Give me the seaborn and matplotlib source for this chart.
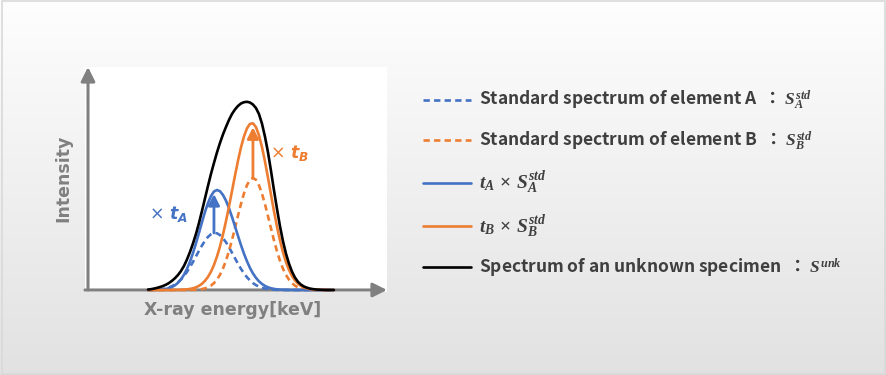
import numpy as np
import pandas as pd
import matplotlib
matplotlib.use("Agg")
import matplotlib.pyplot as plt
import seaborn as sns
from matplotlib.font_manager import FontProperties
from matplotlib.patches import Rectangle

# ---------------- data (arbitrary units) ----------------
energy = [20, 21, 22, 23, 24, 25, 26, 27, 28, 29, 30, 31, 32, 33, 34, 35,
          36, 37, 38, 39, 40, 41, 42, 43, 44, 45, 46, 47, 48, 49, 50, 51,
          52, 53, 54, 55, 56, 57, 58, 59, 60, 61, 62, 63, 64, 65, 66, 67,
          68, 69, 70, 71, 72, 73, 74, 75, 76, 77, 78, 79, 80, 81, 82]

std_a = [0.08, 0.14, 0.25, 0.42, 0.69, 1.1, 1.71, 2.59, 3.83, 5.51, 7.71, 10.5,
         14.0, 18.1, 22.9, 28.1, 33.6, 39.2, 44.5, 49.2, 53.1, 55.7, 57.0, 56.7,
         55.0, 51.9, 47.8, 42.8, 37.4, 31.8, 26.3, 21.2, 16.7, 12.8, 9.5, 6.9,
         4.9, 3.4, 2.3, 1.47, 0.94, 0.58, 0.35, 0.21, 0.12, 0.07, 0.04, 0,
         0, 0, 0, 0, 0, 0, 0, 0, 0, 0, 0, 0, 0, 0, 0]
std_b = [0, 0, 0, 0, 0, 0, 0, 0, 0, 0, 0, 0.01,
         0.02, 0.04, 0.08, 0.15, 0.29, 0.53, 0.94, 1.63, 2.7, 4.39, 6.9, 10.4,
         15.2, 21.4, 29.3, 38.9, 49.8, 61.8, 74.1, 86.0, 96.5, 104.8, 110.2, 112.0,
         110.2, 104.8, 96.5, 86.0, 74.1, 61.8, 49.8, 38.9, 29.3, 21.4, 15.2, 10.4,
         6.9, 4.39, 2.7, 1.63, 0.94, 0.53, 0.29, 0.15, 0.08, 0.04, 0.02, 0.01, 0, 0, 0]
scaled_a = [0.03, 0.05, 0.1, 0.2, 0.36, 0.64, 1.1, 1.86, 3.0, 4.7, 7.2, 10.6,
            15.2, 21.1, 28.3, 36.9, 46.6, 57.1, 67.8, 78.0, 86.9, 94.0, 98.5, 100.0,
            98.8, 95.1, 89.4, 81.9, 73.2, 63.8, 54.3, 45.0, 36.4, 28.8, 22.1, 16.6,
            12.2, 8.7, 6.1, 4.1, 2.7, 1.76, 1.1, 0.68, 0.4, 0.24, 0.14, 0.08,
            0.04, 0.02, 0, 0, 0, 0, 0, 0, 0, 0, 0, 0, 0, 0, 0]
scaled_b = [0, 0, 0, 0, 0, 0, 0.01, 0.02, 0.04, 0.07, 0.12, 0.22,
            0.38, 0.65, 1.07, 1.72, 2.7, 4.15, 6.2, 9.15, 13.1, 18.3, 25.0, 33.4,
            43.4, 55.3, 68.7, 83.3, 98.7, 114.2, 129.1, 142.5, 153.5, 161.6, 166.1, 166.7,
            162.9, 154.8, 143.1, 128.7, 112.5, 95.7, 79.0, 63.7, 49.8, 37.9, 28.0, 20.2,
            14.1, 9.6, 6.4, 4.1, 2.6, 1.57, 0.93, 0.53, 0.3, 0.16, 0.1, 0.05, 0.02, 0, 0]
unknown = [0.4, 0.8, 1.4, 2.1, 3.0, 4.0, 5.3, 7.0, 9.2, 11.8, 15.0, 19.0,
           24.0, 30.5, 38.0, 46.5, 56.0, 67.0, 79.0, 91.5, 104, 116, 127, 137.5,
           147, 155.5, 163, 170, 176, 180.5, 184, 186.5, 187.8, 188.2, 187.5, 185.5,
           182, 176, 166.5, 153.5, 138, 119.5, 100, 81.5, 64, 49, 36.5, 26.5,
           18.5, 12.5, 8.2, 5.4, 3.5, 2.3, 1.4, 0.9, 0.5, 0.3, 0.15, 0.05, 0, 0, 0]

labels = [
    "Standard spectrum of element A  \uff1a $S_A^{std}$",
    "Standard spectrum of element B  \uff1a $S_B^{std}$",
    r"$t_A\,\times\,S_A^{std}$",
    r"$t_B\,\times\,S_B^{std}$",
    "Spectrum of an unknown specimen  \uff1a $S^{unk}$",
]
series = [std_a, std_b, scaled_a, scaled_b, unknown]

BLUE = "#4472C4"
ORANGE = "#ED7D31"
colors = [BLUE, ORANGE, BLUE, ORANGE, "#000000"]
dash_styles = [(2.4, 1.6), (2.4, 1.6), "", "", ""]

# ---------------- style ----------------
sns.set_theme(style="white")
plt.rcParams["font.family"] = ["DejaVu Sans", "Noto Sans CJK JP"]
plt.rcParams["mathtext.fontset"] = "custom"
plt.rcParams["mathtext.it"] = "Liberation Serif:italic:bold"
plt.rcParams["mathtext.rm"] = "Liberation Serif:bold"
plt.rcParams["mathtext.bf"] = "Liberation Serif:bold"
plt.rcParams["mathtext.sf"] = "DejaVu Sans:italic:bold"

rows = []
for lab, vals in zip(labels, series):
    for e, v in zip(energy, vals):
        rows.append({"energy": e, "intensity": v, "series": lab})
df = pd.DataFrame(rows)

fig = plt.figure(figsize=(8.87, 3.75), dpi=100)

# background gradient
bg = fig.add_axes([0, 0, 1, 1], zorder=-10)
grad = np.linspace(0.995, 0.885, 256).reshape(-1, 1)
bg.imshow(np.dstack([grad, grad, grad]), aspect="auto", extent=[0, 1, 0, 1])
bg.set_axis_off()
fig.patches.append(Rectangle((0.002, 0.003), 0.996, 0.994, transform=fig.transFigure,
                             fill=False, edgecolor="#d9d9d9", lw=1.2))

W, H = 887, 375
ax = fig.add_axes([85 / W, (H - 292) / H, 302 / W, 225 / H])
ax.set_facecolor("white")

sns.lineplot(data=df, x="energy", y="intensity", hue="series", style="series",
             hue_order=labels, style_order=labels,
             palette=dict(zip(labels, colors)),
             dashes=dict(zip(labels, dash_styles)),
             linewidth=1.9, ax=ax, legend=True, zorder=3)

ax.set_xlim(-1, 99.7)
ax.set_ylim(-2, 223)
for s in ax.spines.values():
    s.set_visible(False)
ax.set_xticks([])
ax.set_yticks([])
ax.set_xlabel("")
ax.set_ylabel("")

# axis arrows
GRAY = "#808080"
ax.annotate("", xy=(0, 223), xytext=(0, 0), zorder=1,
            arrowprops=dict(arrowstyle="-|>,head_length=0.6,head_width=0.3",
                            color=GRAY, lw=2.2, mutation_scale=14, shrinkA=0, shrinkB=0))
ax.annotate("", xy=(99.7, 0), xytext=(-1, 0), zorder=1,
            arrowprops=dict(arrowstyle="-|>,head_length=0.6,head_width=0.3",
                            color=GRAY, lw=2.2, mutation_scale=14, shrinkA=0, shrinkB=0),
            annotation_clip=False)

fig.text(63 / W, 1 - 178 / H, "Intensity", rotation=90, ha="center", va="center",
         color=GRAY, fontsize=12.5, fontweight="bold")
fig.text(233 / W, 1 - 310 / H, "X-ray energy[keV]", ha="center", va="center",
         color=GRAY, fontsize=12.5, fontweight="bold")

# scaling arrows
def scale_arrow(dashed, solid, color, side):
    i = int(np.argmax(dashed))
    x = energy[i]
    y0 = dashed[i]
    y1 = max(solid) - 4
    ax.annotate("", xy=(x, y1), xytext=(x, y0), zorder=4,
                arrowprops=dict(arrowstyle="-|>,head_length=0.55,head_width=0.28",
                                color=color, lw=2.0, mutation_scale=12,
                                shrinkA=0, shrinkB=0))
    name = "A" if side == "left" else "B"
    txt = "\u00d7 $\\mathsf{t_%s}$" % name
    off = -19 if side == "left" else 12
    ax.annotate(txt, xy=(x, (y0 + y1) / 2), xytext=(off, 0), textcoords="offset points",
                ha="right" if side == "left" else "left", va="center",
                color=color, fontsize=12.5)

scale_arrow(std_a, scaled_a, BLUE, "left")
scale_arrow(std_b, scaled_b, ORANGE, "right")

sns.move_legend(ax, "upper left", bbox_to_anchor=(423 / W, 1 - 89 / H),
                bbox_transform=fig.transFigure, frameon=False, title=None,
                prop=FontProperties(family=["Noto Sans CJK JP"], weight="bold", size=12.5),
                labelcolor="#3f3f3f", labelspacing=0.98, handlelength=2.75,
                handletextpad=0.5, borderpad=0, borderaxespad=0)
leg = ax.get_legend()
for t in leg.get_texts()[2:4]:
    t.set_fontsize(14)

fig.savefig("out.png", dpi=100)
